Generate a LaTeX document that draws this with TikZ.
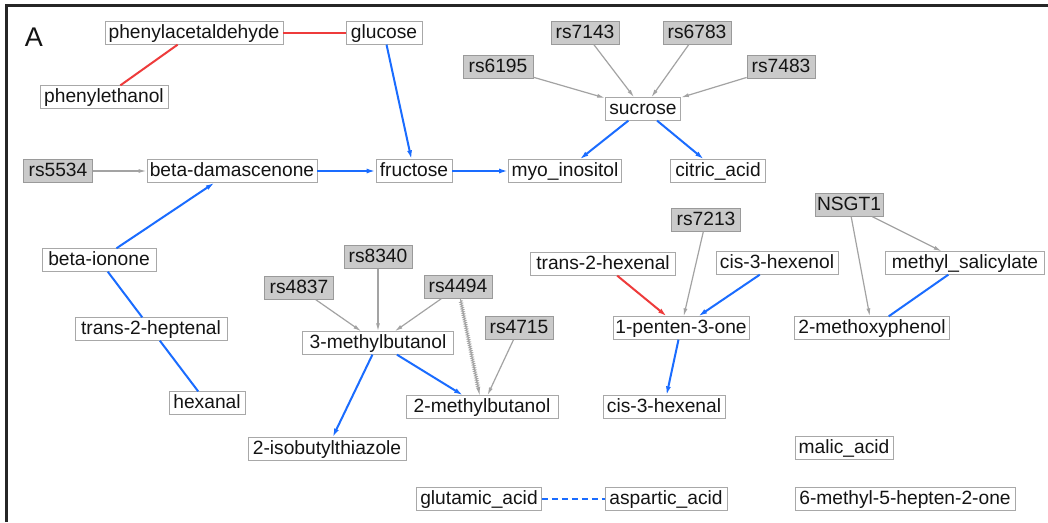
\documentclass[tikz,border=0pt]{standalone}
\usepackage{fontspec}
\setmainfont{Liberation Sans}
\usetikzlibrary{arrows.meta,decorations.pathmorphing}
\definecolor{myblue}{HTML}{1A6CFF}
\definecolor{myred}{HTML}{EE3B3B}
\definecolor{linegray}{HTML}{A3A3A3}
\definecolor{snpgray}{HTML}{CACACA}
\definecolor{snpborder}{HTML}{9A9A9A}
\definecolor{boxborder}{HTML}{A8A8A8}
\definecolor{txt}{HTML}{141414}
\newcommand{\nodefont}{\fontsize{19.2}{21}\selectfont}
\tikzset{
  wnode/.style={draw=boxborder, fill=white, line width=0.8pt, font=\nodefont, text=txt,
    inner xsep=2pt, inner ysep=0pt, minimum height=22.5pt, text height=14pt, text depth=4pt},
  snode/.style={wnode, fill=snpgray, draw=snpborder},
  blueline/.style={draw=myblue, line width=2pt},
  bluearrow/.style={blueline, -{Latex[length=9pt,width=5pt]}},
  redline/.style={draw=myred, line width=2pt},
  redarrow/.style={redline, -{Latex[length=9pt,width=5pt]}},
  grayarrow/.style={draw=linegray, line width=1.2pt, -{Latex[length=8pt,width=4pt]}},
  zigarrow/.style={draw=linegray, line width=0.9pt, -{Latex[length=8pt,width=4pt]}, decorate, decoration={zigzag, amplitude=1.3pt, segment length=2.2pt, pre length=2pt, post length=7pt}},
  bluedash/.style={blueline, dash pattern=on 6pt off 4pt},
}
\begin{document}
\begin{tikzpicture}[x=1pt,y=-1pt]
\useasboundingbox (0,0) rectangle (1048,522);
\fill[white] (0,0) rectangle (1048,522);
\draw[line width=2.5pt, color=black!85] (6.5,522) -- (6.5,5.5) -- (1048,5.5);
\node[font=\fontsize{27}{29}\selectfont, text=txt] (lblA) at (34,37) {A};

% nodes
\node[wnode, minimum width=178pt] (pac) at (194,33) {phenylacetaldehyde};
\node[wnode, minimum width=76pt] (glu) at (384,33) {glucose};
\node[wnode, minimum width=128pt] (peth) at (104,97) {phenylethanol};
\node[snode, minimum width=69pt] (rs5534) at (58,171) {rs5534};
\node[wnode, minimum width=170pt] (bdam) at (232,171) {beta-damascenone};
\node[wnode, minimum width=76pt] (fru) at (414,171) {fructose};
\node[wnode, minimum width=113pt] (myo) at (565,171) {myo\_inositol};
\node[wnode, minimum width=95pt] (cit) at (718,171) {citric\_acid};
\node[snode, minimum width=68pt] (rs7143) at (585,33) {rs7143};
\node[snode, minimum width=68pt] (rs6783) at (697,33) {rs6783};
\node[snode, minimum width=70pt] (rs6195) at (498,67) {rs6195};
\node[snode, minimum width=68pt] (rs7483) at (781,67) {rs7483};
\node[wnode, minimum width=75pt] (suc) at (643,109) {sucrose};
\node[wnode, minimum width=114pt] (bion) at (99,260) {beta-ionone};
\node[wnode, minimum width=152pt] (thep) at (151,329) {trans-2-heptenal};
\node[wnode, minimum width=76pt] (hex) at (207,403) {hexanal};
\node[snode, minimum width=68pt] (rs8340) at (378,257) {rs8340};
\node[snode, minimum width=69pt] (rs4837) at (299,288) {rs4837};
\node[snode, minimum width=68pt] (rs4494) at (458,287) {rs4494};
\node[snode, minimum width=68pt] (rs4715) at (519,328) {rs4715};
\node[wnode, minimum width=151pt] (mb3) at (378,343) {3-methylbutanol};
\node[wnode, minimum width=152pt] (mb2) at (482,407) {2-methylbutanol};
\node[wnode, minimum width=158pt] (ibt) at (327,449) {2-isobutylthiazole};
\node[snode, minimum width=69pt] (rs7213) at (706,220) {rs7213};
\node[snode, minimum width=68pt] (nsgt) at (849,205) {NSGT1};
\node[wnode, minimum width=145pt] (thex) at (603,264) {trans-2-hexenal};
\node[wnode, minimum width=122pt] (chexol) at (777,263) {cis-3-hexenol};
\node[wnode, minimum width=159pt] (msal) at (965,263) {methyl\_salicylate};
\node[wnode, minimum width=136pt] (pent) at (681,328) {1-penten-3-one};
\node[wnode, minimum width=155pt] (mph) at (872,328) {2-methoxyphenol};
\node[wnode, minimum width=122pt] (chexal) at (664,407) {cis-3-hexenal};
\node[wnode, minimum width=98pt] (mal) at (844,448) {malic\_acid};
\node[wnode, minimum width=125pt] (gluta) at (479,499) {glutamic\_acid};
\node[wnode, minimum width=122pt] (asp) at (666,499) {aspartic\_acid};
\node[wnode, minimum width=220pt] (mhep) at (905,499) {6-methyl-5-hepten-2-one};

% edges
\draw[redline] (pac) -- (glu);
\draw[redline] (pac) -- (peth);
\draw[bluearrow] (glu) -- (fru);
\draw[grayarrow] (rs5534) -- (bdam);
\draw[bluearrow] (bdam) -- (fru);
\draw[bluearrow] (fru) -- (myo);
\draw[grayarrow] (rs6195) -- (suc);
\draw[grayarrow] (rs7143) -- (suc);
\draw[grayarrow] (rs6783) -- (suc);
\draw[grayarrow] (rs7483) -- (suc);
\draw[bluearrow] (suc) -- (myo);
\draw[bluearrow] (suc) -- (cit);
\draw[bluearrow] (bion) -- (bdam);
\draw[blueline] (bion) -- (thep);
\draw[blueline] (thep) -- (hex);
\draw[grayarrow] (rs4837) -- (mb3);
\draw[grayarrow] (rs8340) -- (mb3);
\draw[grayarrow] (rs4494) -- (mb3);
\draw[zigarrow] (rs4494) -- (mb2);
\draw[grayarrow] (rs4715) -- (mb2);
\draw[bluearrow] (mb3) -- (ibt);
\draw[bluearrow] (mb3) -- (mb2);
\draw[grayarrow] (rs7213) -- (pent);
\draw[redarrow] (thex) -- (pent);
\draw[bluearrow] (chexol) -- (pent);
\draw[bluearrow] (pent) -- (chexal);
\draw[grayarrow] (nsgt) -- (msal);
\draw[grayarrow] (nsgt) -- (mph);
\draw[blueline] (msal) -- (mph);
\draw[bluedash] (gluta) -- (asp);
\end{tikzpicture}
\end{document}
